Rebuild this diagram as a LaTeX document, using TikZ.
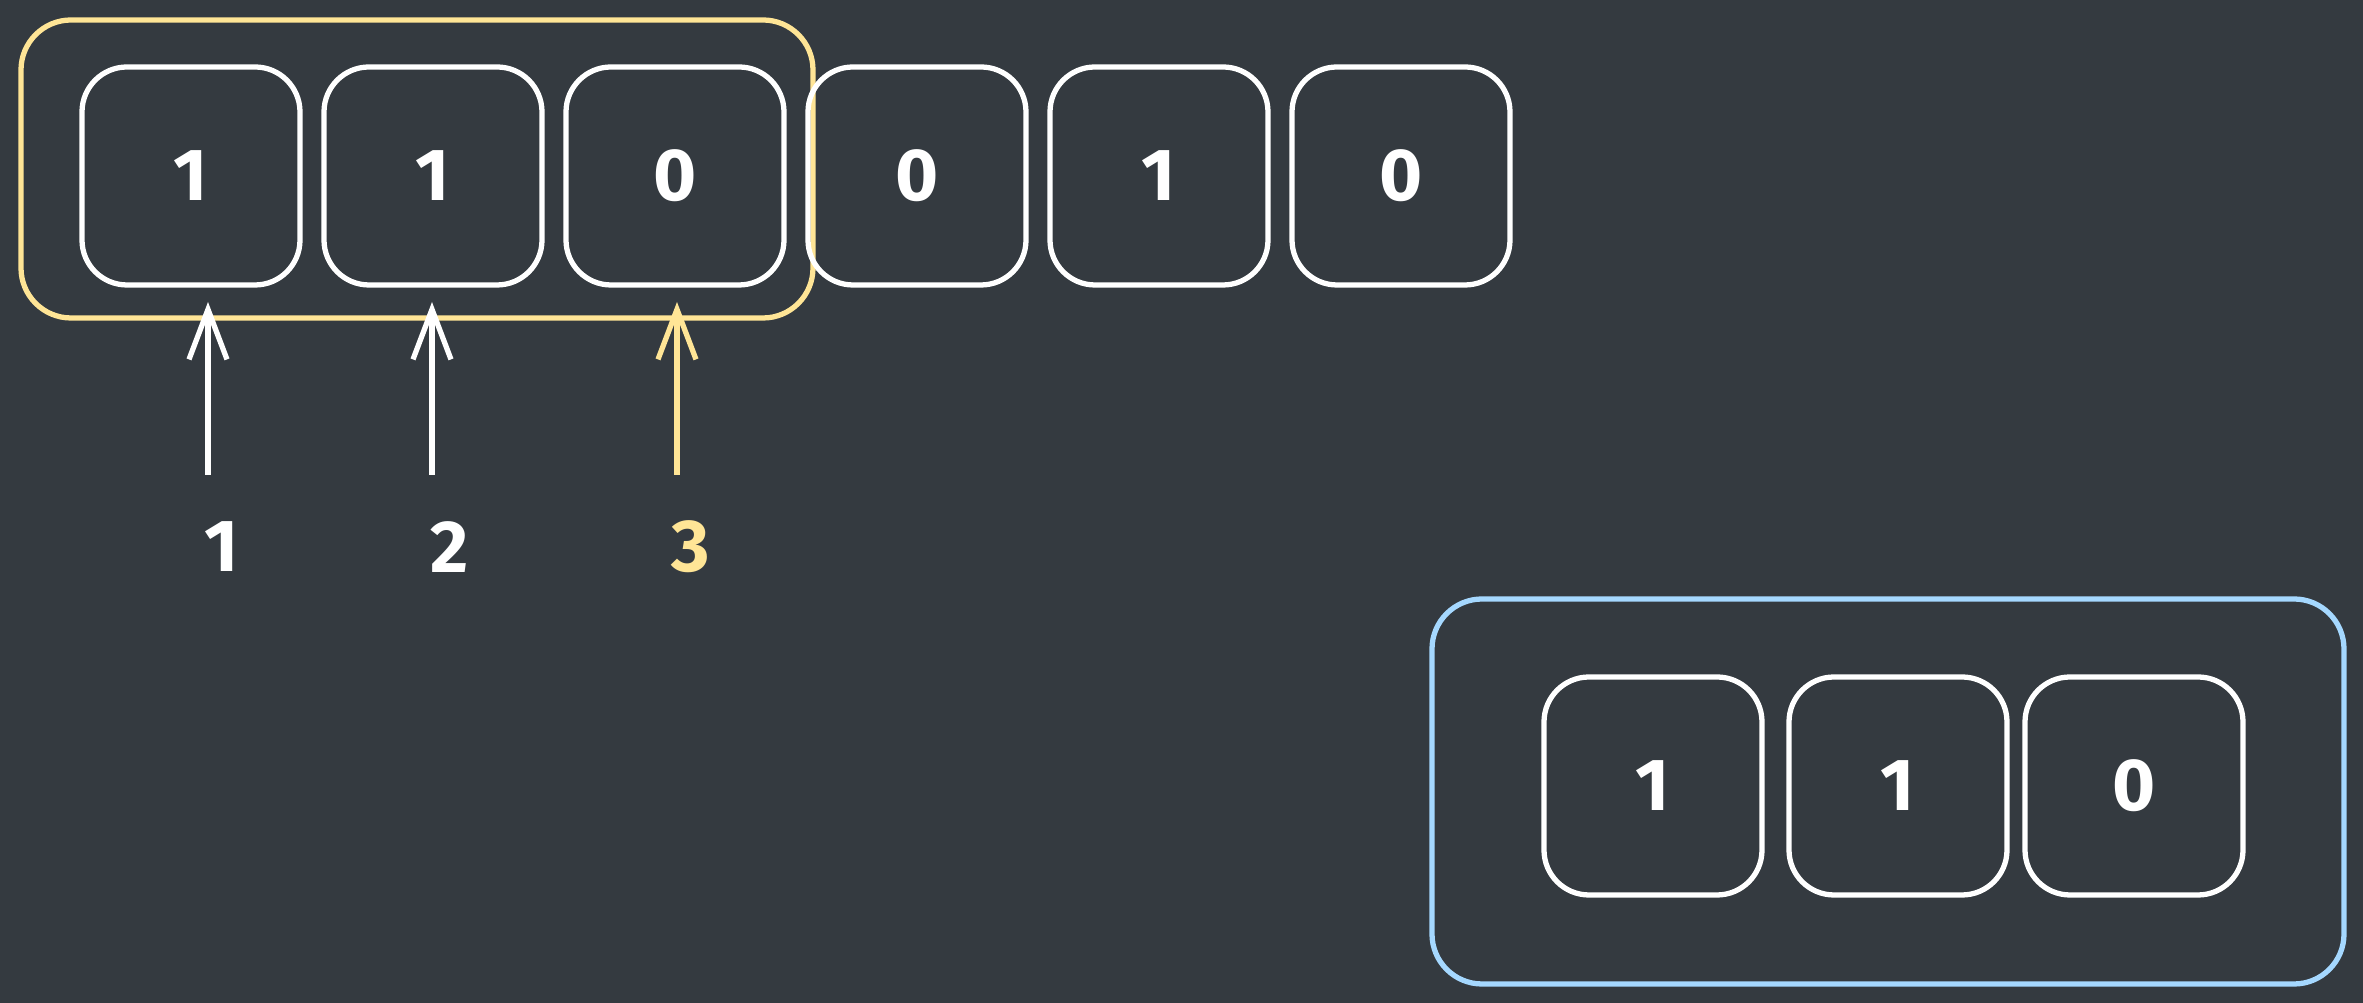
\documentclass[tikz,border=0pt]{standalone}
\usepackage{fontspec}
\setmainfont{Fira Sans}
\usepackage{tikz}
\usetikzlibrary{arrows.meta}

\definecolor{bgdark}{HTML}{343A40}
\definecolor{hlyellow}{HTML}{FFE596}
\definecolor{hlblue}{HTML}{A5D8FF}

\begin{document}
\begin{tikzpicture}[
    bit/.style={draw=white, line width=1.5pt, rounded corners=4.5mm, minimum width=2.18cm, minimum height=2.18cm, inner sep=0pt, text=white, font=\fontsize{21}{24}\selectfont\bfseries},
    frame/.style={line width=1.5pt, rounded corners=5mm, inner sep=0pt},
    pointer/.style={-{Straight Barb[length=5mm,width=3.8mm]}, line width=1.5pt},
    idx/.style={font=\fontsize{21}{24}\selectfont\bfseries}
]
    \fill[bgdark] (0,0) rectangle (23.63,-10.03);
    \useasboundingbox (0,0) rectangle (23.63,-10.03);

    % window
    \node[frame, draw=hlyellow, minimum width=7.92cm, minimum height=2.98cm] (window) at (4.17,-1.69) {};

    \node[bit] (b1) at (1.91,-1.76) {1};
    \node[bit] (b2) at (4.33,-1.76) {1};
    \node[bit] (b3) at (6.75,-1.76) {0};
    \node[bit] (b4) at (9.17,-1.76) {0};
    \node[bit] (b5) at (11.59,-1.76) {1};
    \node[bit] (b6) at (14.01,-1.76) {0};

    % pointers
    \coordinate (tail1) at (2.08,-4.75);
    \coordinate (tail2) at (4.32,-4.75);
    \coordinate (tail3) at (6.77,-4.75);
    \coordinate (tip1) at (2.08,-3.02);
    \coordinate (tip2) at (4.32,-3.02);
    \coordinate (tip3) at (6.77,-3.02);

    \draw[pointer, white] (tail1) -- (tip1);
    \draw[pointer, white] (tail2) -- (tip2);
    \draw[pointer, hlyellow] (tail3) -- (tip3);

    \node[idx, text=white] (i1) at (2.22,-5.47) {1};
    \node[idx, text=white] (i2) at (4.50,-5.47) {2};
    \node[idx, text=hlyellow] (i3) at (6.91,-5.47) {3};

    % result
    \node[frame, draw=hlblue, minimum width=9.12cm, minimum height=3.85cm] (result) at (18.88,-7.915) {};

    \node[bit] (r1) at (16.53,-7.86) {1};
    \node[bit] (r2) at (18.98,-7.86) {1};
    \node[bit] (r3) at (21.34,-7.86) {0};
\end{tikzpicture}
\end{document}
